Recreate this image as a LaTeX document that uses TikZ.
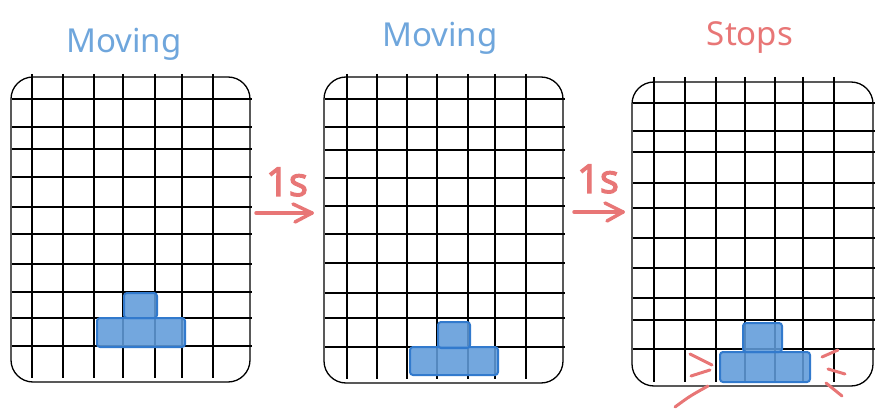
\documentclass[tikz,border=0pt]{standalone}
\usepackage{fontspec}
\setmainfont{Noto Sans}
\newfontfamily\heavysans{Noto Sans}[FakeBold=2.5]
\usetikzlibrary{arrows.meta}
\definecolor{movblue}{RGB}{111,166,220}
\definecolor{stopred}{RGB}{232,118,118}
\definecolor{tetfill}{RGB}{96,155,218}
\definecolor{tetedge}{RGB}{50,122,205}
\begin{document}
\begin{tikzpicture}[x=1pt,y=-1pt,
  frame/.style={draw=black,line width=1.3pt,rounded corners=22pt},
  gridline/.style={draw=black,line width=1.3pt},
  tet/.style={fill=tetfill,fill opacity=0.88,draw=tetedge,line width=2pt,rounded corners=3pt},
  titletext/.style={font=\fontsize{33}{40}\selectfont,anchor=base,inner sep=0pt},
  onesec/.style={font=\heavysans\fontsize{40}{46}\selectfont,text=stopred,anchor=base,inner sep=0pt},
  redstroke/.style={draw=stopred,line width=3.5pt,line cap=round,line join=round},
  burst/.style={draw=stopred,line width=3pt,line cap=round}]
\useasboundingbox (0,0) rectangle (884,417);

% titles
\node[titletext,text=movblue] (t1) at (124,53) {Moving};
\node[titletext,text=movblue] (t2) at (440,47) {Moving};
\node[titletext,text=stopred] (t3) at (750,46) {Stops};

% panel 1
\draw[frame] (11,77) rectangle (250,382);
\foreach \x in {32,63,94,123,155,182,213} \draw[gridline] (\x,74) -- (\x,378);
\foreach \y in {99,127,149,177,207,234,264,292,318,346} \draw[gridline] (12,\y) -- (252,\y);
\draw[tet] (97,318) rectangle (185,347);
\draw[tet] (124,293) rectangle (157,318);

% panel 2
\draw[frame] (324,77) rectangle (563,383);
\foreach \x in {347,377,407,437,468,495,526} \draw[gridline] (\x,74) -- (\x,379);
\foreach \y in {99,127,150,178,206,234,263,293,318,347} \draw[gridline] (325,\y) -- (565,\y);
\draw[tet] (410,347) rectangle (498,375);
\draw[tet] (438,322) rectangle (470,348);

% panel 3
\draw[frame] (632,82) rectangle (873,386);
\foreach \x in {654,685,716,745,775,803,834} \draw[gridline] (\x,77) -- (\x,382);
\foreach \y in {103,131,152,183,208,238,268,298,320,349} \draw[gridline] (633,\y) -- (875,\y);
\draw[tet] (720,352) rectangle (810,382);
\draw[tet] (743,323) rectangle (782,352);

% burst marks
\draw[burst] (690,354) -- (712,365);
\draw[burst] (691,376) -- (710,370);
\draw[burst] (675,407) .. controls (690,396) .. (708,386);
\draw[burst] (822,357) -- (838,350);
\draw[burst] (828,369) -- (845,374);
\draw[burst] (826,383) -- (842,396);

% arrows
\node[onesec] (s1) at (287,196) {1s};
\coordinate (a1s) at (256,213);
\coordinate (a1e) at (312,213);
\draw[redstroke] (a1s) -- (a1e);
\draw[redstroke] (293,204) -- (a1e) -- (295,222);

\node[onesec] (s2) at (598,193) {1s};
\coordinate (a2s) at (574,212);
\coordinate (a2e) at (623,212);
\draw[redstroke] (a2s) -- (a2e);
\draw[redstroke] (605,203) -- (a2e) -- (607,221);
\end{tikzpicture}
\end{document}
